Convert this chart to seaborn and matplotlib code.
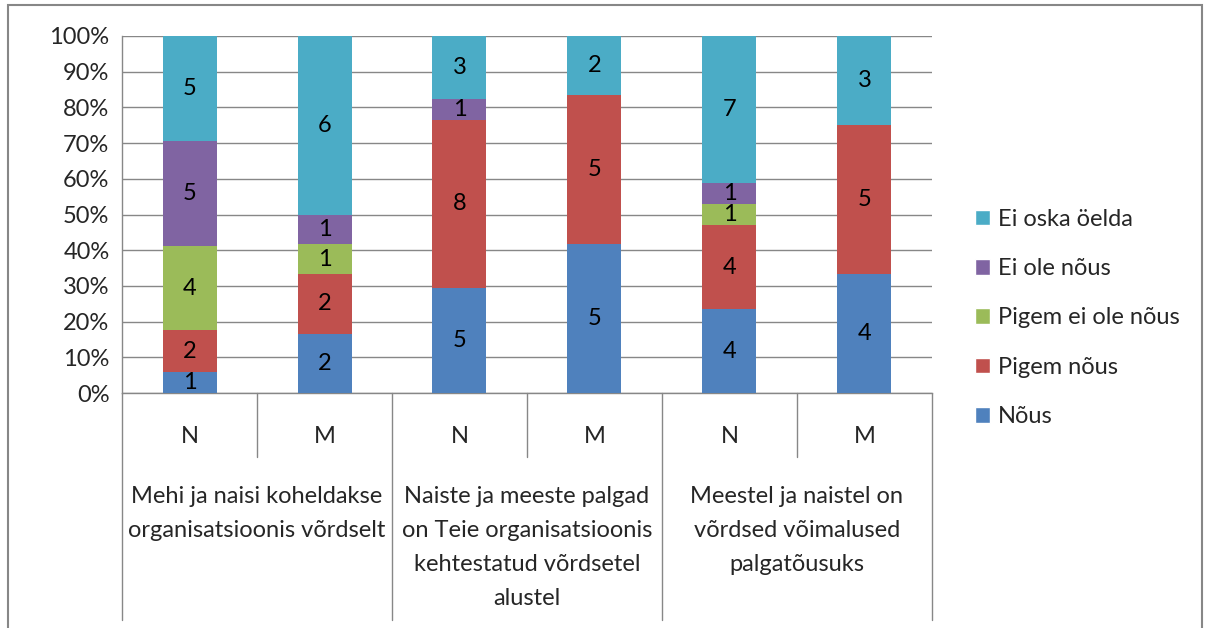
import pandas as pd
import matplotlib.pyplot as plt
import seaborn as sns
from matplotlib.patches import Patch, Rectangle

answers = ["Nõus", "Pigem nõus", "Pigem ei ole nõus", "Ei ole nõus", "Ei oska öelda"]
colors = ["#4F81BD", "#C0504D", "#9BBB59", "#8064A2", "#4BACC6"]
sex = ["N", "M", "N", "M", "N", "M"]
groups = ["Mehi ja naisi koheldakse\norganisatsioonis võrdselt",
          "Naiste ja meeste palgad\non Teie organisatsioonis\nkehtestatud võrdsetel\nalustel",
          "Meestel ja naistel on\nvõrdsed võimalused\npalgatõusuks"]

nous = [1, 2, 5, 5, 4, 4]
pigem_nous = [2, 2, 8, 5, 4, 5]
pigem_ei = [4, 1, 0, 0, 1, 0]
ei_ole = [5, 1, 1, 0, 1, 0]
ei_oska = [5, 6, 3, 2, 7, 3]

counts = pd.DataFrame([nous, pigem_nous, pigem_ei, ei_ole, ei_oska], index=answers).T
counts["bar"] = [f"b{i}" for i in range(6)]
counts = counts.set_index("bar")
pct = counts.div(counts.sum(axis=1), axis=0) * 100
cum = pct.cumsum(axis=1)

sns.set_style("white")
plt.rcParams['font.family'] = ['Lato', 'DejaVu Sans']
fs = 17

fig = plt.figure(figsize=(12.1, 6.28), dpi=100)
ax = fig.add_axes([122 / 1210, 1 - 393 / 628, 810 / 1210, 357 / 628])

# overlapping bars, drawn from the top layer down
for i in range(len(answers) - 1, -1, -1):
    d = pd.DataFrame({"bar": cum.index, "val": cum[answers[i]].values})
    sns.barplot(data=d, x="bar", y="val", color=colors[i], width=0.4,
                saturation=1, linewidth=0, ax=ax, zorder=3)

for b in range(6):
    base = 0
    for a in answers:
        h = pct.iloc[b][a]
        c = counts.iloc[b][a]
        if c > 0:
            ax.text(b, base + h / 2, str(c), ha="center", va="center",
                    fontsize=fs, color="black", zorder=5)
        base += h

ax.set_xlim(-0.5, 5.5)
ax.set_ylim(0, 100)
ax.set_yticks(range(0, 101, 10))
ax.set_yticklabels([f"{v}%" for v in range(0, 101, 10)], fontsize=fs)
ax.set_xticks([])
ax.set_xlabel("")
ax.set_ylabel("")
ax.grid(axis="y", color="#878787", lw=1, zorder=0)
ax.tick_params(axis="y", direction="out", length=6, color="#878787", width=1, pad=3)
for s in ["top", "right"]:
    ax.spines[s].set_visible(False)
for s in ["left", "bottom"]:
    ax.spines[s].set_color("#878787")
    ax.spines[s].set_linewidth(1)

# multi-level category axis
tr = ax.get_xaxis_transform()
for k in range(7):
    x = k - 0.5
    low = -0.636 if k % 2 == 0 else -0.179
    ax.plot([x, x], [0, low], transform=tr, color="#878787", lw=1, clip_on=False)
for b in range(6):
    ax.text(b, -0.123, sex[b], transform=tr, ha="center", va="center", fontsize=fs)
for g in range(3):
    ax.text(2 * g + 0.5, -0.26, groups[g], transform=tr, ha="center", va="top",
            fontsize=fs, linespacing=1.76)

handles = [Patch(facecolor=colors[i], label=answers[i]) for i in range(len(answers) - 1, -1, -1)]
fig.legend(handles=handles, loc="center left", bbox_to_anchor=(975 / 1210, 1 - 318 / 628),
           frameon=False, fontsize=fs, handlelength=0.63, handleheight=0.63,
           handletextpad=0.35, labelspacing=1.2, borderaxespad=0, borderpad=0)

fig.add_artist(Rectangle((8 / 1210, -0.05), 1194 / 1210, 1.05 - 5 / 628,
                         transform=fig.transFigure, fill=False, edgecolor="#878787", lw=1.5))

fig.savefig("out.png", dpi=100)
